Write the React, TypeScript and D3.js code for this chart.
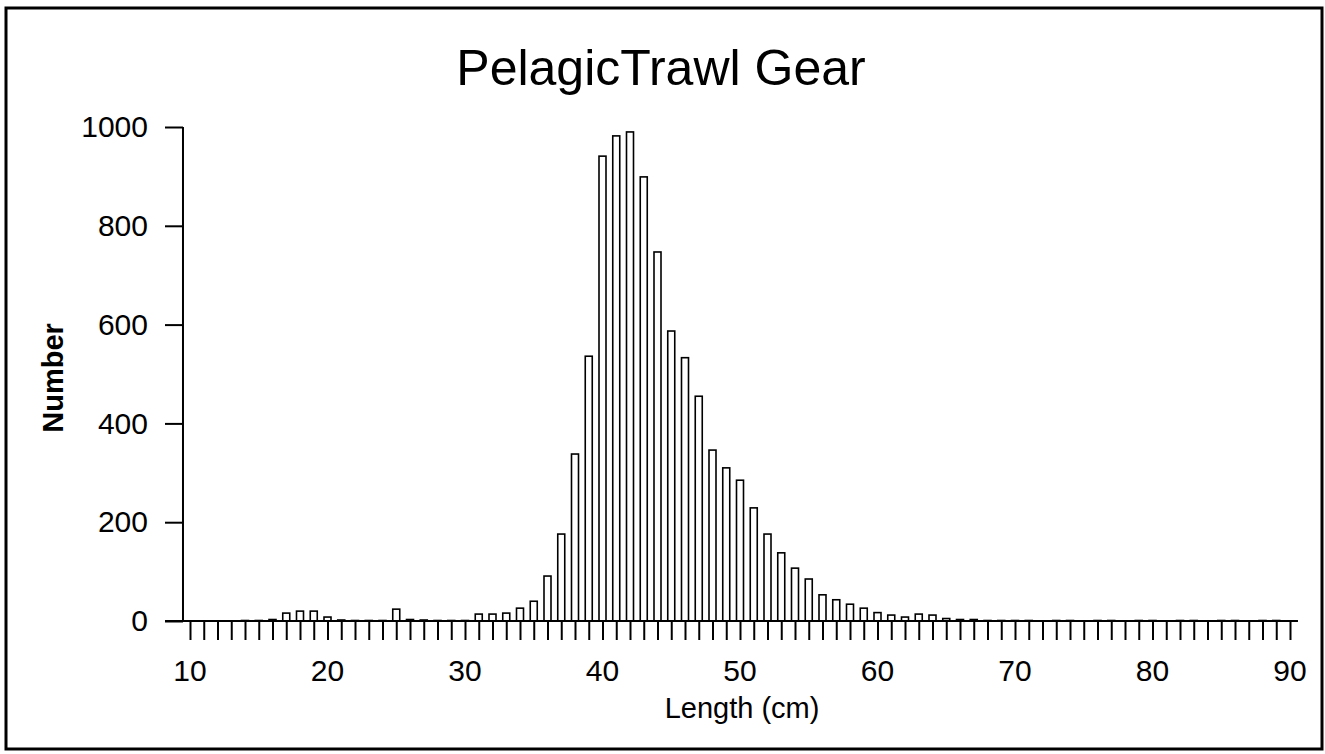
import React, { useRef, useEffect } from 'react';
import * as d3 from 'd3';

// length classes (cm) and counts
const lengths = d3.range(10, 91);
const counts = [
  0, 0, 0, 0, 1, 1, 3, 16, 20, 20, // 10-19
  8, 2, 1, 1, 1, 24, 3, 2, 1, 1, // 20-29
  1, 14, 14, 16, 26, 40, 91, 176, 338, 536, // 30-39
  941, 982, 990, 899, 747, 587, 533, 455, 346, 310, // 40-49
  285, 229, 176, 138, 107, 85, 53, 43, 34, 26, // 50-59
  17, 12, 8, 14, 12, 5, 3, 3, 1, 1, // 60-69
  1, 1, 0, 1, 1, 0, 1, 1, 0, 1, // 70-79
  1, 0, 1, 1, 0, 1, 1, 0, 1, 1, // 80-89
  0, // 90
];
const xTicks = [10, 20, 30, 40, 50, 60, 70, 80, 90];
const yTicks = [0, 200, 400, 600, 800, 1000];

const W = 1325;
const H = 754;
const font = '"Liberation Sans", Arial, sans-serif';

function App() {
  const ref = useRef(null);

  useEffect(() => {
    const svg = d3.select(ref.current);
    svg.selectAll('*').remove();

    const x = d3.scaleLinear().domain([10, 90]).range([190, 1290]);
    const y = d3.scaleLinear().domain([0, 1000]).range([621, 127]);

    // outer frame
    svg.append('rect')
      .attr('x', 6).attr('y', 8)
      .attr('width', 1316).attr('height', 741)
      .attr('fill', 'white').attr('stroke', 'black').attr('stroke-width', 3);

    svg.append('text')
      .attr('x', 661).attr('y', 85)
      .attr('text-anchor', 'middle')
      .attr('font-family', font).attr('font-size', 50)
      .text('PelagicTrawl Gear');

    // bars
    svg.append('g')
      .selectAll('rect')
      .data(lengths)
      .join('rect')
      .attr('x', (d) => x(d) - 3.5)
      .attr('width', 7)
      .attr('y', (d, i) => y(counts[i]))
      .attr('height', (d, i) => y(0) - y(counts[i]))
      .attr('fill', 'white')
      .attr('stroke', 'black')
      .attr('stroke-width', 1.6);

    // x axis: baseline plus a tick at every cm
    const xAxis = d3.axisBottom(x)
      .tickValues(lengths)
      .tickSize(19)
      .tickFormat('');
    const gx = svg.append('g')
      .attr('transform', `translate(0,${y(0)})`)
      .call(xAxis);
    gx.select('.domain').remove();
    gx.selectAll('line').attr('stroke-width', 2);
    svg.append('line')
      .attr('x1', 165).attr('x2', x(90.58))
      .attr('y1', y(0)).attr('y2', y(0))
      .attr('stroke', 'black').attr('stroke-width', 2);

    svg.append('g')
      .selectAll('text')
      .data(xTicks)
      .join('text')
      .attr('x', (d) => x(d))
      .attr('y', 681)
      .attr('text-anchor', 'middle')
      .attr('font-family', font).attr('font-size', 30)
      .text((d) => d);

    // y axis
    const yAxis = d3.axisLeft(y)
      .tickValues(yTicks)
      .tickSize(18)
      .tickPadding(17)
      .tickFormat(d3.format('d'));
    const gy = svg.append('g')
      .attr('transform', `translate(${x(9.49)},0)`)
      .call(yAxis);
    gy.select('.domain').attr('d', `M0,${y(1000)}V${y(0)}`).attr('stroke-width', 2);
    gy.selectAll('line').attr('stroke-width', 2);
    gy.selectAll('text')
      .attr('font-family', font).attr('font-size', 30)
      .attr('fill', 'black');

    svg.append('text')
      .attr('transform', 'translate(63,378) rotate(-90)')
      .attr('text-anchor', 'middle')
      .attr('font-family', font).attr('font-size', 29)
      .attr('font-weight', 'bold')
      .text('Number');

    svg.append('text')
      .attr('x', 742).attr('y', 718)
      .attr('text-anchor', 'middle')
      .attr('font-family', font).attr('font-size', 29)
      .text('Length (cm)');
  }, []);

  return (
    <svg ref={ref} width={W} height={H}
      style={{ position: 'absolute', left: 0, top: 0, background: 'white' }} />
  );
}

export default App;
